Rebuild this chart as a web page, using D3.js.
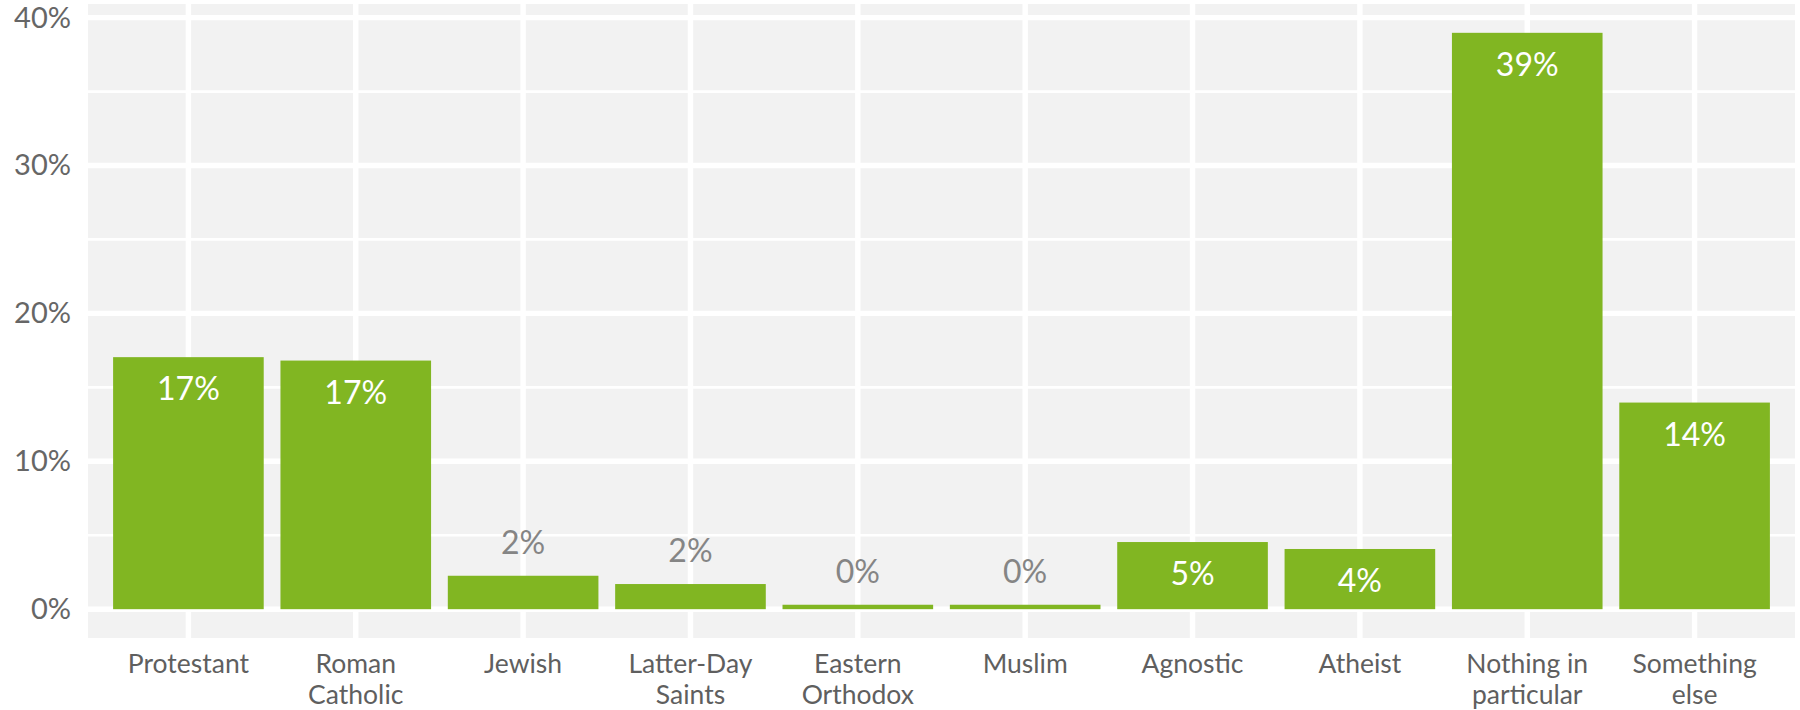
<!DOCTYPE html>
<html>
<head>
<meta charset="utf-8">
<script src="https://cdn.jsdelivr.net/npm/d3@7"></script>
<style>
  body { margin: 0; background: #fff; }
  svg { display: block; font-family: Lato, "Open Sans", sans-serif; }
</style>
</head>
<body>
<div id="chart"></div>
<script>
'use strict';

// religion share, in percent
var categories = ['Protestant', 'Roman\nCatholic', 'Jewish', 'Latter-Day\nSaints', 'Eastern\nOrthodox',
                  'Muslim', 'Agnostic', 'Atheist', 'Nothing in\nparticular', 'Something\nelse'];
var values     = [17.04, 16.81, 2.26, 1.70, 0.30, 0.30, 4.54, 4.07, 38.97, 13.97];
var labels     = ['17%', '17%', '2%', '2%', '0%', '0%', '5%', '4%', '39%', '14%'];
var yTicks     = [0, 10, 20, 30, 40];
var yMinor     = [5, 15, 25, 35];

var width  = 1800
  , height = 710
  , panel  = { left: 88, right: 1795, top: 4, bottom: 638 }
  , barColor = '#81b622'

var svg = d3.select('#chart')
  .append('svg')
  .attr('width', width)
  .attr('height', height)

// ggplot-like expansion: 5% of the data range on both ends
var maxV = d3.max(values);
var pad  = maxV * 0.05;

var y = d3.scaleLinear()
  .domain([-pad, maxV + pad])
  .range([panel.bottom, panel.top])

var x = d3.scaleBand()
  .domain(d3.range(categories.length))
  .range([panel.left, panel.right])
  .paddingInner(0.1)
  .paddingOuter(0.15)

svg.append('rect')
  .attr('x', panel.left)
  .attr('y', panel.top)
  .attr('width', panel.right - panel.left)
  .attr('height', panel.bottom - panel.top)
  .attr('fill', '#f2f2f2')

var grid = svg.append('g')

grid.selectAll('line.minor')
  .data(yMinor)
  .join('line')
  .attr('class', 'minor')
  .attr('x1', panel.left).attr('x2', panel.right)
  .attr('y1', function (d) { return y(d) }).attr('y2', function (d) { return y(d) })
  .attr('stroke', '#fff').attr('stroke-width', 2.7)

grid.selectAll('line.major')
  .data(yTicks)
  .join('line')
  .attr('class', 'major')
  .attr('x1', panel.left).attr('x2', panel.right)
  .attr('y1', function (d) { return y(d) }).attr('y2', function (d) { return y(d) })
  .attr('stroke', '#fff').attr('stroke-width', 5.4)

grid.selectAll('line.vert')
  .data(d3.range(categories.length))
  .join('line')
  .attr('class', 'vert')
  .attr('x1', function (i) { return x(i) + x.bandwidth() / 2 })
  .attr('x2', function (i) { return x(i) + x.bandwidth() / 2 })
  .attr('y1', panel.top).attr('y2', panel.bottom)
  .attr('stroke', '#fff').attr('stroke-width', 5.4)

// bars
svg.append('g')
  .selectAll('rect')
  .data(values)
  .join('rect')
  .attr('x', function (d, i) { return x(i) })
  .attr('width', x.bandwidth())
  .attr('y', function (d) { return y(d) })
  .attr('height', function (d) { return y(0) - y(d) })
  .attr('fill', barColor)

// value labels: white inside tall bars, grey above short ones
svg.append('g')
  .selectAll('text')
  .data(values)
  .join('text')
  .attr('x', function (d, i) { return x(i) + x.bandwidth() / 2 })
  .attr('y', function (d) { return d > 3 ? y(d) + 43 : y(d) - 22 })
  .attr('text-anchor', 'middle')
  .attr('font-size', 32)
  .attr('fill', function (d) { return d > 3 ? '#ffffff' : '#858585' })
  .text(function (d, i) { return labels[i] })

// y axis labels
svg.append('g')
  .selectAll('text')
  .data(yTicks)
  .join('text')
  .attr('x', 71)
  .attr('y', function (d) { return y(d) + 10 })
  .attr('text-anchor', 'end')
  .attr('font-size', 29)
  .attr('fill', '#666')
  .text(function (d) { return d + '%' })

// x axis labels, wrapped on \n
var xl = svg.append('g')
  .selectAll('text')
  .data(categories)
  .join('text')
  .attr('x', function (d, i) { return x(i) + x.bandwidth() / 2 })
  .attr('y', 673)
  .attr('text-anchor', 'middle')
  .attr('font-size', 26.5)
  .attr('fill', '#5f5f5f')

xl.selectAll('tspan')
  .data(function (d) { return d.split('\n') })
  .join('tspan')
  .attr('x', function () { return this.parentNode.getAttribute('x') })
  .attr('dy', function (d, j) { return j ? 30.5 : 0 })
  .text(function (d) { return d })
</script>
</body>
</html>
